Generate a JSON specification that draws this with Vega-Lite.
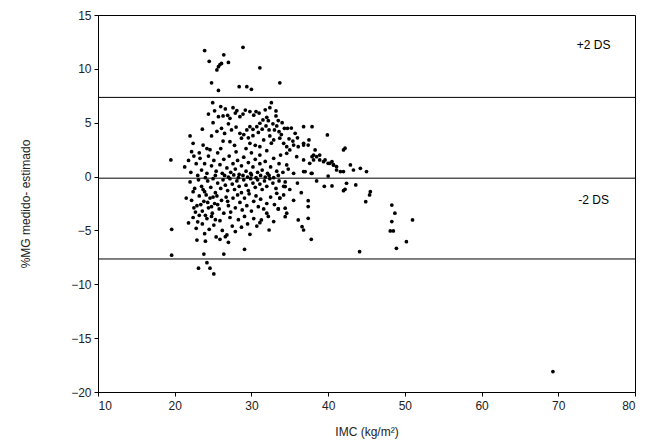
{
  "$schema": "https://vega.github.io/schema/vega-lite/v6.json",
  "autosize": {"type": "none"},
  "padding": {"left": 98, "top": 15, "right": 13, "bottom": 56},
  "width": 537,
  "height": 377,
  "background": "white",
  "config": {
    "font": "Liberation Sans",
    "view": {"stroke": "black", "strokeWidth": 1},
    "axis": {"grid": false, "domain": true, "domainColor": "black", "tickColor": "black", "tickSize": 4, "labelFont": "Liberation Sans", "labelFontSize": 12, "labelColor": "#222", "titleFont": "Liberation Sans", "titleFontSize": 12, "titleFontWeight": "normal", "titleColor": "#222"}
  },
  "datasets": {
    "pts": [
      {"imc":23.9,"d":11.7},{"imc":28.9,"d":12.0},{"imc":26.4,"d":11.3},{"imc":24.5,"d":10.7},{"imc":27.0,"d":10.6},{"imc":25.5,"d":9.9},{"imc":25.7,"d":10.2},{"imc":25.9,"d":10.4},{"imc":26.1,"d":10.5},{"imc":31.1,"d":10.1},{"imc":24.8,"d":8.7},{"imc":25.7,"d":8.0},{"imc":28.4,"d":8.35},{"imc":29.4,"d":8.35},{"imc":30.0,"d":8.1},{"imc":33.7,"d":8.7},
      {"imc":24.95,"d":6.86},{"imc":32.6,"d":6.86},{"imc":26.6,"d":6.28},{"imc":27.6,"d":6.4},{"imc":28.1,"d":6.12},{"imc":29.2,"d":6.18},{"imc":29.8,"d":6.03},{"imc":30.6,"d":6.03},{"imc":33.2,"d":6.09},
      {"imc":25.7,"d":5.56},{"imc":26.3,"d":5.63},{"imc":26.9,"d":5.69},{"imc":27.2,"d":5.41},{"imc":28.5,"d":5.56},{"imc":32.0,"d":5.5},{"imc":33.2,"d":5.63},{"imc":31.5,"d":5.26},{"imc":32.2,"d":5.19},
      {"imc":31.1,"d":4.95},{"imc":30.7,"d":4.63},{"imc":30.2,"d":4.39},{"imc":29.8,"d":4.63},{"imc":29.4,"d":4.33},{"imc":26.1,"d":4.48},{"imc":27.4,"d":4.33},{"imc":28.5,"d":4.02},{"imc":28.7,"d":3.56},
      {"imc":32.3,"d":4.33},{"imc":33.0,"d":4.33},{"imc":33.6,"d":4.17},{"imc":34.3,"d":4.48},{"imc":34.7,"d":4.48},{"imc":36.8,"d":4.63},{"imc":37.9,"d":4.63},{"imc":35.7,"d":4.02},{"imc":39.9,"d":3.86},
      {"imc":22.0,"d":3.77},{"imc":24.8,"d":3.77},{"imc":27.2,"d":3.24},{"imc":32.4,"d":3.77},{"imc":32.9,"d":3.4},{"imc":33.7,"d":3.56},{"imc":34.2,"d":3.09},{"imc":22.4,"d":3.09},{"imc":23.7,"d":2.93},{"imc":29.8,"d":3.09},{"imc":31.1,"d":2.78},
      {"imc":34.6,"d":2.78},{"imc":35.0,"d":2.47},{"imc":35.5,"d":2.93},{"imc":36.1,"d":2.78},{"imc":36.8,"d":3.09},{"imc":37.4,"d":2.93},{"imc":42.2,"d":2.63},{"imc":42.0,"d":2.47},{"imc":22.2,"d":2.31},{"imc":31.1,"d":2.0},
      {"imc":34.6,"d":2.16},{"imc":35.9,"d":1.85},{"imc":36.8,"d":1.54},{"imc":38.1,"d":2.0},{"imc":38.5,"d":1.85},{"imc":38.9,"d":1.54},{"imc":39.4,"d":1.38},{"imc":40.2,"d":1.23},{"imc":40.7,"d":1.08},{"imc":41.1,"d":0.92},
      {"imc":42.0,"d":0.46},{"imc":42.9,"d":1.08},{"imc":43.3,"d":0.61},{"imc":44.2,"d":0.77},{"imc":45.0,"d":0.46},{"imc":34.6,"d":1.08},{"imc":37.0,"d":0.46},{"imc":37.9,"d":0.3},
      {"imc":37.5,"d":3.4},{"imc":36.8,"d":2.93},{"imc":38.3,"d":2.47},{"imc":38.9,"d":2.0},{"imc":37.9,"d":1.85},{"imc":38.1,"d":1.54},{"imc":37.6,"d":1.23},{"imc":39.6,"d":1.54},{"imc":40.0,"d":1.23},{"imc":40.5,"d":1.38},{"imc":40.7,"d":1.08},{"imc":41.1,"d":0.61},{"imc":41.6,"d":0.46},{"imc":36.8,"d":0.46},{"imc":37.8,"d":0.3},{"imc":40.0,"d":0.05},
      {"imc":19.5,"d":1.54},
      {"imc":25.2,"d":6.1},{"imc":26.0,"d":6.5},{"imc":27.9,"d":5.9},{"imc":28.9,"d":5.8},{"imc":30.3,"d":5.7},{"imc":31.0,"d":5.9},{"imc":31.8,"d":6.2},{"imc":32.4,"d":6.4},{"imc":33.5,"d":5.2},{"imc":32.8,"d":4.9},{"imc":31.9,"d":4.7},{"imc":31.4,"d":4.4},{"imc":30.9,"d":4.1},{"imc":30.2,"d":3.8},{"imc":29.6,"d":3.6},{"imc":29.0,"d":3.9},{"imc":28.0,"d":4.6},{"imc":27.0,"d":4.9},{"imc":26.5,"d":4.0},{"imc":25.5,"d":4.2},{"imc":25.0,"d":5.0},{"imc":24.4,"d":5.8},{"imc":23.6,"d":4.4},{"imc":33.9,"d":3.9},{"imc":34.9,"d":3.5},{"imc":35.4,"d":3.3},{"imc":36.0,"d":3.6},{"imc":35.2,"d":4.5},{"imc":34.0,"d":5.0},{"imc":33.3,"d":4.7},{"imc":32.6,"d":3.1},{"imc":31.6,"d":3.4},{"imc":30.5,"d":2.9},{"imc":29.3,"d":2.6},{"imc":27.8,"d":2.9},{"imc":26.3,"d":3.3},{"imc":24.2,"d":2.6},{"imc":23.2,"d":2.2},
      {"imc":21.3,"d":0.9},{"imc":21.8,"d":1.5},{"imc":22.5,"d":1.9},{"imc":22.8,"d":1.2},{"imc":23.3,"d":1.7},{"imc":23.5,"d":0.6},{"imc":23.9,"d":1.2},{"imc":24.2,"d":0.3},{"imc":24.4,"d":1.9},{"imc":24.8,"d":1.0},{"imc":25.1,"d":1.5},{"imc":25.4,"d":0.5},{"imc":25.6,"d":2.2},{"imc":25.9,"d":1.1},{"imc":26.2,"d":0.3},{"imc":26.4,"d":1.6},{"imc":26.8,"d":0.8},{"imc":27.1,"d":1.9},{"imc":27.3,"d":0.4},{"imc":27.6,"d":1.2},{"imc":27.9,"d":0.7},{"imc":28.2,"d":1.5},{"imc":28.4,"d":0.2},{"imc":28.7,"d":1.0},{"imc":29.0,"d":1.8},{"imc":29.3,"d":0.5},{"imc":29.6,"d":1.3},{"imc":29.9,"d":0.3},{"imc":30.2,"d":0.9},{"imc":30.5,"d":1.6},{"imc":30.8,"d":0.4},{"imc":31.1,"d":1.2},{"imc":31.4,"d":0.6},{"imc":31.8,"d":1.4},{"imc":32.1,"d":0.3},{"imc":32.5,"d":0.9},{"imc":32.9,"d":1.7},{"imc":33.3,"d":0.5},{"imc":33.6,"d":1.2},{"imc":34.1,"d":0.4},{"imc":34.8,"d":0.7},{"imc":35.5,"d":0.3},{"imc":22.1,"d":0.4},{"imc":23.0,"d":0.1},{"imc":24.6,"d":2.5},{"imc":26.0,"d":2.6},{"imc":28.0,"d":2.3},{"imc":30.0,"d":2.2},{"imc":32.0,"d":2.4},{"imc":33.8,"d":2.0},
      {"imc":26.5,"d":0.1},{"imc":27.0,"d":-0.05},{"imc":27.7,"d":0.15},{"imc":28.3,"d":-0.1},{"imc":28.9,"d":0.1},{"imc":29.5,"d":-0.05},{"imc":30.0,"d":0.15},{"imc":30.6,"d":-0.1},{"imc":31.2,"d":0.1},{"imc":31.8,"d":-0.05},{"imc":32.3,"d":0.1},{"imc":32.9,"d":-0.1},{"imc":24.0,"d":-0.1},{"imc":25.3,"d":0.1},{"imc":33.5,"d":0.1},
      {"imc":22.0,"d":-0.5},{"imc":22.6,"d":-1.1},{"imc":23.1,"d":-0.3},{"imc":23.5,"d":-0.9},{"imc":23.9,"d":-1.4},{"imc":24.3,"d":-0.4},{"imc":24.7,"d":-1.0},{"imc":25.0,"d":-0.2},{"imc":25.3,"d":-1.5},{"imc":25.6,"d":-0.6},{"imc":26.0,"d":-1.1},{"imc":26.3,"d":-0.3},{"imc":26.6,"d":-0.8},{"imc":26.9,"d":-1.3},{"imc":27.2,"d":-0.2},{"imc":27.5,"d":-0.7},{"imc":27.8,"d":-1.2},{"imc":28.1,"d":-0.4},{"imc":28.4,"d":-0.9},{"imc":28.7,"d":-1.5},{"imc":29.0,"d":-0.3},{"imc":29.3,"d":-0.8},{"imc":29.6,"d":-1.3},{"imc":29.9,"d":-0.2},{"imc":30.2,"d":-0.6},{"imc":30.5,"d":-1.0},{"imc":30.8,"d":-0.3},{"imc":31.1,"d":-0.7},{"imc":31.4,"d":-1.2},{"imc":31.7,"d":-0.4},{"imc":32.0,"d":-0.9},{"imc":32.4,"d":-0.2},{"imc":32.8,"d":-0.6},{"imc":33.2,"d":-1.1},{"imc":33.6,"d":-0.4},{"imc":34.2,"d":-0.9},{"imc":34.4,"d":-0.5},
      {"imc":21.5,"d":-2.0},{"imc":22.2,"d":-2.2},{"imc":22.4,"d":-1.4},{"imc":22.9,"d":-2.7},{"imc":23.2,"d":-1.8},{"imc":23.6,"d":-3.2},{"imc":23.8,"d":-2.3},{"imc":24.1,"d":-1.7},{"imc":24.4,"d":-2.9},{"imc":24.6,"d":-2.0},{"imc":24.9,"d":-3.4},{"imc":25.2,"d":-2.5},{"imc":25.5,"d":-1.8},{"imc":25.8,"d":-3.0},{"imc":26.1,"d":-2.2},{"imc":26.4,"d":-3.4},{"imc":26.7,"d":-1.9},{"imc":27.0,"d":-2.7},{"imc":27.3,"d":-3.3},{"imc":27.6,"d":-2.0},{"imc":27.9,"d":-2.9},{"imc":28.2,"d":-1.7},{"imc":28.5,"d":-2.4},{"imc":28.8,"d":-3.1},{"imc":29.1,"d":-2.0},{"imc":29.4,"d":-2.7},{"imc":29.7,"d":-1.6},{"imc":30.0,"d":-3.2},{"imc":30.3,"d":-2.3},{"imc":30.6,"d":-1.8},{"imc":30.9,"d":-2.8},{"imc":31.2,"d":-2.1},{"imc":31.6,"d":-3.0},{"imc":32.0,"d":-2.5},{"imc":32.5,"d":-1.9},{"imc":33.0,"d":-2.6},{"imc":33.7,"d":-2.0},{"imc":33.5,"d":-3.0},{"imc":34.4,"d":-2.94},{"imc":34.6,"d":-3.4},
      {"imc":22.7,"d":-3.3},{"imc":23.4,"d":-2.6},{"imc":24.0,"d":-3.6},{"imc":24.3,"d":-2.4},{"imc":24.8,"d":-2.8},{"imc":25.0,"d":-1.9},{"imc":25.6,"d":-2.6},{"imc":25.3,"d":-4.0},{"imc":23.0,"d":-4.2},{"imc":22.5,"d":-2.9},{"imc":23.7,"d":-1.2},{"imc":26.9,"d":-2.3},
      {"imc":21.8,"d":-4.3},{"imc":22.4,"d":-3.8},{"imc":22.8,"d":-4.8},{"imc":23.2,"d":-3.6},{"imc":23.6,"d":-4.4},{"imc":23.9,"d":-5.3},{"imc":24.2,"d":-3.9},{"imc":24.5,"d":-4.9},{"imc":24.8,"d":-3.7},{"imc":25.1,"d":-4.5},{"imc":25.4,"d":-5.6},{"imc":25.9,"d":-4.1},{"imc":26.2,"d":-5.0},{"imc":26.6,"d":-5.58},{"imc":26.8,"d":-5.42},{"imc":25.9,"d":-5.82},{"imc":27.2,"d":-3.8},{"imc":27.5,"d":-4.6},{"imc":27.9,"d":-5.1},{"imc":28.3,"d":-4.0},{"imc":28.7,"d":-4.7},{"imc":29.1,"d":-3.7},{"imc":29.5,"d":-4.4},{"imc":29.8,"d":-5.36},{"imc":30.3,"d":-3.9},{"imc":30.7,"d":-4.6},{"imc":31.1,"d":-4.28},{"imc":31.3,"d":-4.03},{"imc":32.0,"d":-3.4},{"imc":32.2,"d":-3.7},{"imc":32.9,"d":-4.18},{"imc":32.3,"d":-4.96},{"imc":33.5,"d":-3.0},{"imc":34.4,"d":-3.72},{"imc":24.0,"d":-6.0},{"imc":22.9,"d":-5.9},{"imc":27.0,"d":-6.1},{"imc":29.1,"d":-6.75},{"imc":26.4,"d":-7.19},{"imc":23.8,"d":-7.19},
      {"imc":34.2,"d":-1.7},{"imc":34.4,"d":-0.93},{"imc":33.7,"d":-2.0},{"imc":33.3,"d":-1.55},{"imc":35.0,"d":-1.2},{"imc":36.0,"d":-0.6},{"imc":36.5,"d":-1.5},{"imc":35.5,"d":-2.2},
      {"imc":40.5,"d":-0.87},{"imc":42.4,"d":-0.62},{"imc":42.2,"d":-1.18},{"imc":42.0,"d":-1.31},{"imc":43.6,"d":-0.78},{"imc":45.5,"d":-1.4},{"imc":45.4,"d":-1.7},{"imc":44.9,"d":-2.33},{"imc":48.3,"d":-2.64},{"imc":48.7,"d":-3.4},{"imc":48.3,"d":-4.18},{"imc":48.1,"d":-5.05},{"imc":48.5,"d":-5.05},{"imc":48.9,"d":-6.66},{"imc":44.1,"d":-6.97},{"imc":51.0,"d":-4.03},{"imc":50.2,"d":-6.04},{"imc":37.4,"d":-2.24},{"imc":37.4,"d":-2.79},{"imc":37.4,"d":-3.87},{"imc":36.6,"d":-4.65},{"imc":36.8,"d":-4.96},{"imc":36.1,"d":-4.03},{"imc":37.8,"d":-5.82},{"imc":38.5,"d":-0.4},{"imc":39.5,"d":-0.9},
      {"imc":24.2,"d":-7.99},{"imc":23.1,"d":-8.5},{"imc":24.6,"d":-8.5},{"imc":25.1,"d":-9.04},{"imc":19.6,"d":-7.3},{"imc":19.6,"d":-4.9},{"imc":69.3,"d":-18.1}
    ],
    "lines": [{"v": 7.35}, {"v": -0.15}, {"v": -7.65}],
    "labels": [{"imc": 74.6, "d": 12.2, "t": "+2 DS"}, {"imc": 74.6, "d": -2.2, "t": "-2 DS"}]
  },
  "layer": [
    {
      "data": {"name": "lines"},
      "mark": {"type": "rule", "color": "black", "strokeWidth": 1},
      "encoding": {"y": {"field": "v", "type": "quantitative", "scale": {"domain": [-20, 15]}}}
    },
    {
      "data": {"name": "pts"},
      "mark": {"type": "circle", "color": "black", "opacity": 1, "size": 14},
      "encoding": {
        "x": {"field": "imc", "type": "quantitative", "scale": {"domain": [10, 80], "nice": false, "zero": false}, "axis": {"values": [10, 20, 30, 40, 50, 60, 70, 80], "title": "IMC (kg/m²)", "labelPadding": 4, "titlePadding": 15, "titleFontSize": 12}},
        "y": {"field": "d", "type": "quantitative", "scale": {"domain": [-20, 15], "nice": false, "zero": false}, "axis": {"values": [-20, -15, -10, -5, 0, 5, 10, 15], "title": "%MG medido- estimado", "labelPadding": 3, "titlePadding": 38}}
      }
    },
    {
      "data": {"name": "labels"},
      "mark": {"type": "text", "font": "Liberation Sans", "fontSize": 12, "color": "black", "align": "center", "baseline": "middle"},
      "encoding": {
        "x": {"field": "imc", "type": "quantitative"},
        "y": {"field": "d", "type": "quantitative"},
        "text": {"field": "t"}
      }
    }
  ]
}
